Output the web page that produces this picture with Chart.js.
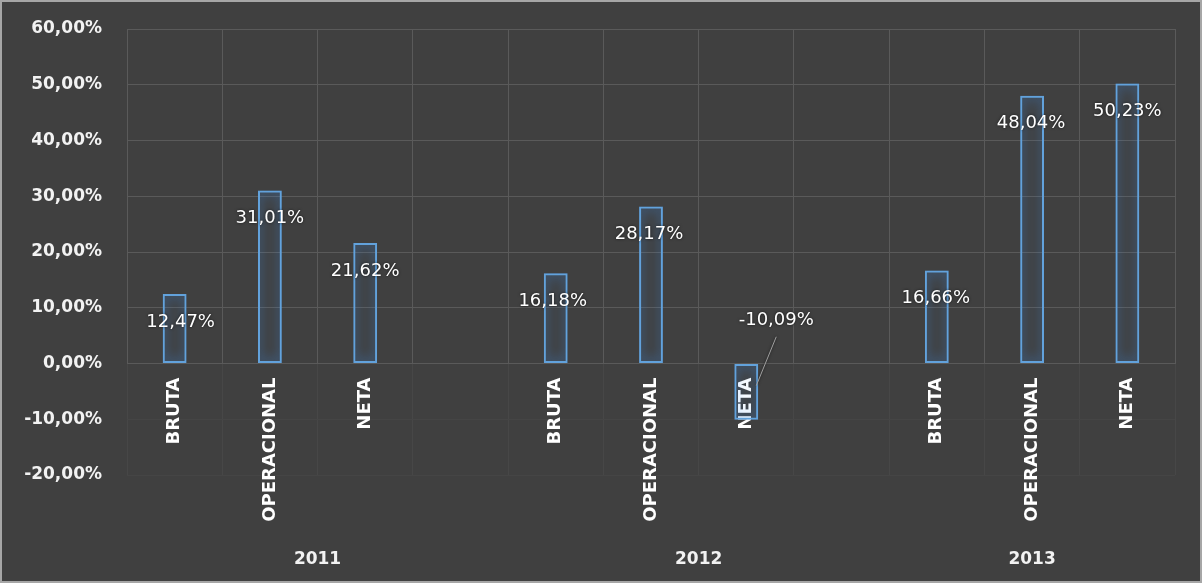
<!DOCTYPE html>
<html>
<head>
<meta charset="utf-8">
<script src="https://cdn.jsdelivr.net/npm/chart.js@4/dist/chart.umd.min.js"></script>
<style>
  body { margin: 0; background: #404040; }
  canvas { display: block; }
</style>
</head>
<body>
<canvas id="margins-bar" width="1202" height="583"></canvas>
<script>
// margin per year: bruta / operacional / neta, blank slot between years
const categories = ["BRUTA", "OPERACIONAL", "NETA", "", "BRUTA", "OPERACIONAL", "NETA", "", "BRUTA", "OPERACIONAL", "NETA"];
const margins = [12.47, 31.01, 21.62, null, 16.18, 28.17, -10.09, null, 16.66, 48.04, 50.23];
const years = ["2011", "2012", "2013"];
const yearFirstSlot = [0, 4, 8];
const yearLastSlot = [3, 7, 10];
const yMin = -20;
const yMax = 60;
const yStep = 10;

// nudges for the value labels (px), null where no bar
const labelShift = [[6, 0], [0, 0], [0, 0], null, [-3, 0], [-2, 0], [30, -71], null, [-1, 0], [-1, 0], [0, 0]];

const fmtPct = (v) => v.toFixed(2).replace(".", ",") + "%";

const bgPlugin = {
  id: "bg",
  beforeDraw(chart) {
    const ctx = chart.ctx;
    ctx.save();
    ctx.fillStyle = "#404040";
    ctx.fillRect(0, 0, chart.width, chart.height);
    ctx.strokeStyle = "#a6a6a6";
    ctx.lineWidth = 2;
    ctx.strokeRect(1, 1, chart.width - 2, chart.height - 2);
    ctx.restore();
  },
};

// blue glow round the bar outlines
const glowPlugin = {
  id: "glow",
  beforeDatasetsDraw(chart) {
    const ctx = chart.ctx;
    ctx.save();
    ctx.shadowColor = "rgba(60,150,255,1)";
    ctx.shadowBlur = 12;
  },
  afterDatasetsDraw(chart) {
    chart.ctx.restore();
  },
};

const valueLabels = {
  id: "valueLabels",
  afterDatasetsDraw(chart) {
    const ctx = chart.ctx;
    const y = chart.scales.y;
    const zero = y.getPixelForValue(0);
    const meta = chart.getDatasetMeta(0);
    ctx.save();
    ctx.font = "18px 'DejaVu Sans'";
    ctx.textAlign = "center";
    ctx.textBaseline = "middle";
    meta.data.forEach((bar, i) => {
      const v = margins[i];
      if (v === null || !labelShift[i]) return;
      const top = y.getPixelForValue(v);
      let lx = bar.x + labelShift[i][0];
      let ly = (v >= 0 ? top + 28 : top - 28) + labelShift[i][1];
      if (Math.abs(labelShift[i][1]) > 30) {
        // leader line back to the bar
        ctx.strokeStyle = "#a0a0a0";
        ctx.lineWidth = 1;
        ctx.beginPath();
        ctx.moveTo(lx, ly + 16);
        ctx.lineTo(bar.x + 10, (zero + top) / 2 - 6);
        ctx.stroke();
      }
      ctx.shadowColor = "rgba(0,0,0,0.7)";
      ctx.shadowBlur = 3;
      ctx.fillStyle = "#ffffff";
      ctx.fillText(fmtPct(v), lx, ly);
    });
    ctx.restore();
  },
};

const yearLabels = {
  id: "yearLabels",
  afterDraw(chart) {
    const ctx = chart.ctx;
    const x = chart.scales.x;
    ctx.save();
    ctx.font = "bold 17px 'DejaVu Sans'";
    ctx.fillStyle = "#f2f2f2";
    ctx.textAlign = "center";
    ctx.textBaseline = "middle";
    years.forEach((yr, i) => {
      const cx = (x.getPixelForValue(yearFirstSlot[i]) + x.getPixelForValue(yearLastSlot[i])) / 2;
      ctx.fillText(yr, cx, 560);
    });
    ctx.restore();
  },
};

// grid is bright above zero and nearly gone below it
const xGridColor = (c) => {
  const chart = c.chart;
  const area = chart.chartArea;
  if (!area || !chart.scales.y) return "#5a5a5a";
  const zero = chart.scales.y.getPixelForValue(0);
  const g = chart.ctx.createLinearGradient(0, area.top, 0, area.bottom);
  const stop = (zero - area.top) / (area.bottom - area.top);
  g.addColorStop(0, "#5a5a5a");
  g.addColorStop(stop, "#5a5a5a");
  g.addColorStop(Math.min(1, stop + 0.001), "#474747");
  g.addColorStop(1, "#474747");
  return g;
};

const ctx = document.getElementById("margins-bar").getContext("2d");
new Chart(ctx, {
  type: "bar",
  data: {
    labels: categories,
    datasets: [
      {
        data: margins,
        backgroundColor: "rgba(0,0,0,0)",
        borderColor: "#62a2dc",
        borderWidth: 2,
        borderSkipped: false,
        categoryPercentage: 1,
        barPercentage: 0.25,
      },
    ],
  },
  options: {
    responsive: false,
    animation: false,
    layout: {
      padding: { top: 29, right: 27, bottom: 108, left: 0 },
    },
    plugins: {
      legend: { display: false },
      tooltip: { enabled: false },
    },
    scales: {
      x: {
        position: { y: 0 },
        afterFit: function (scale) {
          scale.paddingTop = 0;
          scale.paddingBottom = 0;
          scale.paddingLeft = 0;
          scale.paddingRight = 0;
        },
        grid: {
          offset: true,
          color: xGridColor,
          drawTicks: false,
        },
        border: { display: false },
        ticks: {
          autoSkip: false,
          minRotation: 90,
          maxRotation: 90,
          padding: 14,
          color: "#ffffff",
          font: { family: "DejaVu Sans", size: 18, weight: "bold" },
        },
      },
      y: {
        min: yMin,
        max: yMax,
        afterFit: function (scale) {
          scale.width = 127;
          scale.paddingTop = 0;
          scale.paddingBottom = 0;
        },
        grid: {
          color: (c) => (c.tick && c.tick.value < 0 ? "#454545" : "#5a5a5a"),
          drawTicks: false,
        },
        border: { display: false },
        ticks: {
          stepSize: yStep,
          padding: 25,
          color: "#f2f2f2",
          font: { family: "DejaVu Sans", size: 17, weight: "bold" },
          callback: (v) => fmtPct(v),
        },
      },
    },
  },
  plugins: [bgPlugin, glowPlugin, valueLabels, yearLabels],
});
</script>
</body>
</html>
